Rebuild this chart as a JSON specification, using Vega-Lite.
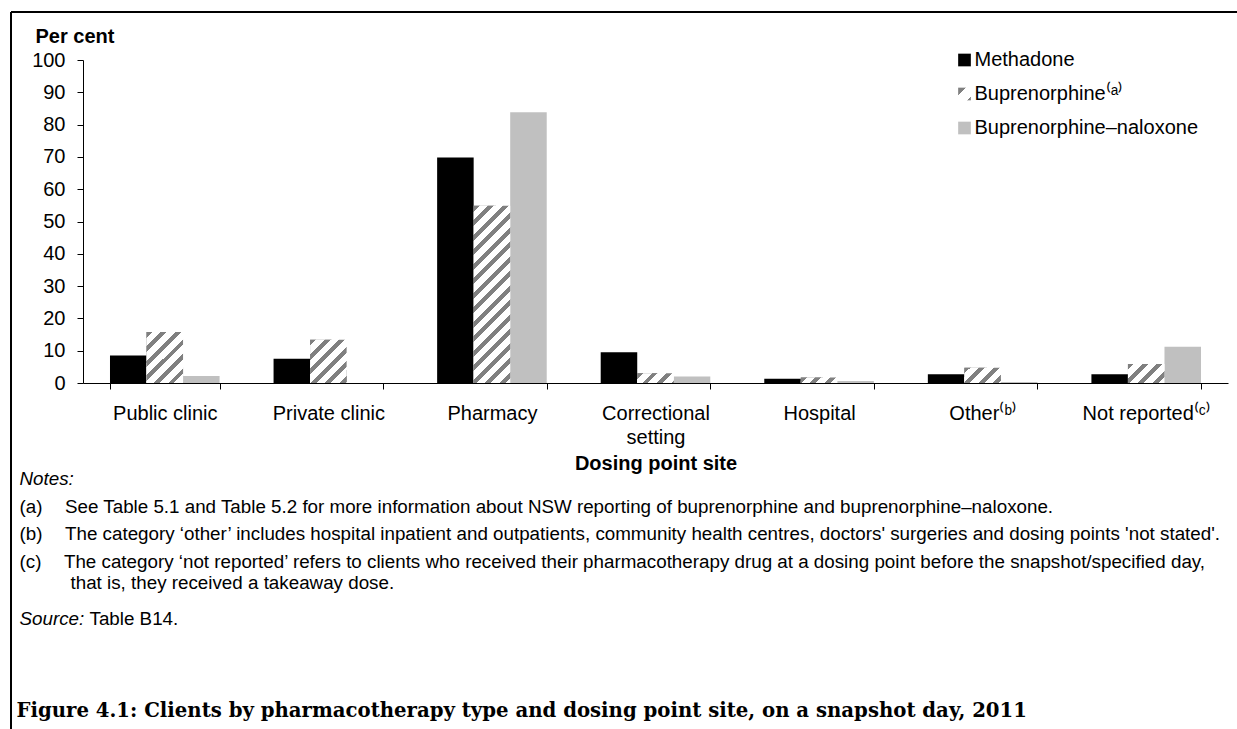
{
  "$schema": "https://vega.github.io/schema/vega-lite/v6.json",
  "width": 1145,
  "height": 323,
  "autosize": {"type": "none"},
  "padding": {"left": 83, "top": 60, "right": 9, "bottom": 346},
  "background": "white",
  "params": [
    {"name": "hatchStops", "value": [
      {"offset":0,"color":"#808080"},{"offset":0.025,"color":"#808080"},{"offset":0.025,"color":"#ffffff"},{"offset":0.0625,"color":"#ffffff"},
      {"offset":0.0625,"color":"#808080"},{"offset":0.0875,"color":"#808080"},{"offset":0.0875,"color":"#ffffff"},{"offset":0.125,"color":"#ffffff"},
      {"offset":0.125,"color":"#808080"},{"offset":0.15,"color":"#808080"},{"offset":0.15,"color":"#ffffff"},{"offset":0.1875,"color":"#ffffff"},
      {"offset":0.1875,"color":"#808080"},{"offset":0.2125,"color":"#808080"},{"offset":0.2125,"color":"#ffffff"},{"offset":0.25,"color":"#ffffff"},
      {"offset":0.25,"color":"#808080"},{"offset":0.275,"color":"#808080"},{"offset":0.275,"color":"#ffffff"},{"offset":0.3125,"color":"#ffffff"},
      {"offset":0.3125,"color":"#808080"},{"offset":0.3375,"color":"#808080"},{"offset":0.3375,"color":"#ffffff"},{"offset":0.375,"color":"#ffffff"},
      {"offset":0.375,"color":"#808080"},{"offset":0.4,"color":"#808080"},{"offset":0.4,"color":"#ffffff"},{"offset":0.4375,"color":"#ffffff"},
      {"offset":0.4375,"color":"#808080"},{"offset":0.4625,"color":"#808080"},{"offset":0.4625,"color":"#ffffff"},{"offset":0.5,"color":"#ffffff"},
      {"offset":0.5,"color":"#808080"},{"offset":0.525,"color":"#808080"},{"offset":0.525,"color":"#ffffff"},{"offset":0.5625,"color":"#ffffff"},
      {"offset":0.5625,"color":"#808080"},{"offset":0.5875,"color":"#808080"},{"offset":0.5875,"color":"#ffffff"},{"offset":0.625,"color":"#ffffff"},
      {"offset":0.625,"color":"#808080"},{"offset":0.65,"color":"#808080"},{"offset":0.65,"color":"#ffffff"},{"offset":0.6875,"color":"#ffffff"},
      {"offset":0.6875,"color":"#808080"},{"offset":0.7125,"color":"#808080"},{"offset":0.7125,"color":"#ffffff"},{"offset":0.75,"color":"#ffffff"},
      {"offset":0.75,"color":"#808080"},{"offset":0.775,"color":"#808080"},{"offset":0.775,"color":"#ffffff"},{"offset":0.8125,"color":"#ffffff"},
      {"offset":0.8125,"color":"#808080"},{"offset":0.8375,"color":"#808080"},{"offset":0.8375,"color":"#ffffff"},{"offset":0.875,"color":"#ffffff"},
      {"offset":0.875,"color":"#808080"},{"offset":0.9,"color":"#808080"},{"offset":0.9,"color":"#ffffff"},{"offset":0.9375,"color":"#ffffff"},
      {"offset":0.9375,"color":"#808080"},{"offset":0.9625,"color":"#808080"},{"offset":0.9625,"color":"#ffffff"},{"offset":1,"color":"#ffffff"}
    ]},
    {"name": "hatchLegend", "value": {"gradient": "linear", "x1": 0, "y1": 0, "x2": 1, "y2": 1, "stops": [
      {"offset":0,"color":"#808080"},{"offset":0.3,"color":"#808080"},{"offset":0.3,"color":"#ffffff"},
      {"offset":0.85,"color":"#ffffff"},{"offset":0.85,"color":"#808080"},{"offset":1,"color":"#808080"}
    ]}}
  ],
  "data": {"values": [
    {"site": "Public clinic", "drug": "Methadone", "Percent": 8.5},
    {"site": "Public clinic", "drug": "Buprenorphine", "Percent": 15.8},
    {"site": "Public clinic", "drug": "Buprenorphine–naloxone", "Percent": 2.2},
    {"site": "Private clinic", "drug": "Methadone", "Percent": 7.5},
    {"site": "Private clinic", "drug": "Buprenorphine", "Percent": 13.4},
    {"site": "Private clinic", "drug": "Buprenorphine–naloxone", "Percent": 0},
    {"site": "Pharmacy", "drug": "Methadone", "Percent": 69.8},
    {"site": "Pharmacy", "drug": "Buprenorphine", "Percent": 54.9},
    {"site": "Pharmacy", "drug": "Buprenorphine–naloxone", "Percent": 83.8},
    {"site": "Correctional setting", "drug": "Methadone", "Percent": 9.5},
    {"site": "Correctional setting", "drug": "Buprenorphine", "Percent": 3.0},
    {"site": "Correctional setting", "drug": "Buprenorphine–naloxone", "Percent": 2.0},
    {"site": "Hospital", "drug": "Methadone", "Percent": 1.3},
    {"site": "Hospital", "drug": "Buprenorphine", "Percent": 1.7},
    {"site": "Hospital", "drug": "Buprenorphine–naloxone", "Percent": 0.6},
    {"site": "Other", "drug": "Methadone", "Percent": 2.7},
    {"site": "Other", "drug": "Buprenorphine", "Percent": 4.7},
    {"site": "Other", "drug": "Buprenorphine–naloxone", "Percent": 0.3},
    {"site": "Not reported", "drug": "Methadone", "Percent": 2.7},
    {"site": "Not reported", "drug": "Buprenorphine", "Percent": 5.9},
    {"site": "Not reported", "drug": "Buprenorphine–naloxone", "Percent": 11.2}
  ]},
  "layer": [
    {
      "encoding": {
        "x": {
          "field": "site", "type": "nominal", "sort": null,
          "scale": {"type": "band", "domain": ["Public clinic", "Private clinic", "Pharmacy", "Correctional setting", "Hospital", "Other", "Not reported"], "paddingInner": 0.33, "paddingOuter": 0.165},
          "axis": {
            "orient": "bottom", "tickBand": "extent", "tickSize": 6, "labelPadding": 14, "labelAngle": 0,
            "labelFontSize": 20, "labelLineHeight": 24, "labelOverlap": false, "labelLimit": 0,
            "labelExpr": "datum.label == 'Correctional setting' ? ['Correctional', 'setting'] : datum.label == 'Other' ? 'Other⁽ᵇ⁾' : datum.label == 'Not reported' ? 'Not reported⁽ᶜ⁾' : datum.label",
            "title": "Dosing point site", "titleFontSize": 20, "titleFontWeight": "bold",
            "titleX": 572.5, "titleY": 86.5, "titleAlign": "center", "titleBaseline": "alphabetic"
          }
        },
        "xOffset": {"field": "drug", "type": "nominal", "sort": null, "scale": {"domain": ["Methadone", "Buprenorphine", "Buprenorphine–naloxone"], "paddingInner": 0, "paddingOuter": 0}},
        "y": {
          "field": "Percent", "type": "quantitative",
          "scale": {"domain": [0, 100], "nice": false, "zero": true},
          "axis": {
            "orient": "left", "values": [0, 10, 20, 30, 40, 50, 60, 70, 80, 90, 100],
            "tickSize": 6, "labelPadding": 12, "labelFontSize": 20,
            "title": "Per cent", "titleAngle": 0, "titleFontSize": 20, "titleFontWeight": "bold",
            "titleX": -48, "titleY": -17.5, "titleAlign": "left", "titleBaseline": "alphabetic"
          }
        }
      },
      "layer": [
        {
          "mark": {"type": "bar"},
          "encoding": {
            "fill": {
              "field": "drug", "type": "nominal", "sort": null,
              "scale": {"domain": ["Methadone", "Buprenorphine", "Buprenorphine–naloxone"], "range": ["#000000", {"expr": "hatchLegend"}, "#c0c0c0"]},
              "legend": {
                "orient": "none", "legendX": 871.5, "legendY": -10, "title": null,
                "symbolType": "square", "symbolSize": 161, "symbolStrokeWidth": 0,
                "labelFontSize": 20, "labelOffset": 0, "rowPadding": 14, "padding": 0, "labelLimit": 0,
                "labelExpr": "datum.label == 'Buprenorphine' ? 'Buprenorphine⁽ᵃ⁾' : datum.label"
              }
            }
          }
        },
        {
          "transform": [{"filter": "datum.drug == 'Buprenorphine'"}],
          "mark": {"type": "bar", "fill": {"expr": "{gradient: 'linear', x1: 0, y1: 0, x2: 8468/(1332.25+pow(datum.Percent*3.23,2)), y2: 749.36*datum.Percent/(1332.25+pow(datum.Percent*3.23,2)), stops: hatchStops}"}}
        }
      ]
    },
    {
      "mark": {"type": "point", "opacity": 0},
      "encoding": {
        "x": {
          "field": "Percent", "type": "quantitative",
          "scale": {"domain": [0, 100], "range": [-72.5, 1170], "nice": false},
          "axis": {
            "orient": "top", "offset": 48.5, "domain": true, "domainColor": "#000000", "domainWidth": 2,
            "ticks": false, "labels": false, "grid": false,
            "title": [
              "(a)\u2003\u2009See Table 5.1 and Table 5.2 for more information about NSW reporting of buprenorphine and buprenorphine–naloxone.",
              "(b)\u2003\u2009The category ‘other’ includes hospital inpatient and outpatients, community health centres, doctors' surgeries and dosing points 'not stated'.",
              "(c)\u2003\u2009The category ‘not reported’ refers to clients who received their pharmacotherapy drug at a dosing point before the snapshot/specified day,"
            ],
            "titleFontSize": 18.8, "titleFontWeight": "normal", "titleLineHeight": 27.5, "titleLimit": 3000,
            "titleX": -64, "titleY": 500.5, "titleAlign": "left", "titleBaseline": "alphabetic", "titleAngle": 0
          }
        },
        "y": {
          "field": "Percent", "type": "quantitative",
          "scale": {"domain": [0, 100], "range": [740, -48.5], "nice": false},
          "axis": {
            "orient": "left", "offset": 72.5, "domain": true, "domainColor": "#000000", "domainWidth": 2,
            "ticks": false, "labels": false, "grid": false,
            "title": "Figure 4.1: Clients by pharmacotherapy type and dosing point site, on a snapshot day, 2011",
            "titleFont": "DejaVu Serif", "titleFontSize": 19.7, "titleFontWeight": "bold", "titleLimit": 3000,
            "titleAngle": 0, "titleX": 5.5, "titleY": 656, "titleAlign": "left", "titleBaseline": "alphabetic"
          }
        }
      }
    },
    {
      "mark": {"type": "point", "opacity": 0},
      "encoding": {
        "x": {
          "field": "Percent", "type": "quantitative",
          "scale": {"domain": [0, 100], "nice": false},
          "axis": {
            "orient": "bottom", "domain": false, "ticks": false, "labels": false, "grid": false,
            "title": "Notes:", "titleFontSize": 18.8, "titleFontWeight": "normal", "titleFontStyle": "italic",
            "titleX": -64, "titleY": 101, "titleAlign": "left", "titleBaseline": "alphabetic", "titleAngle": 0
          }
        },
        "y": {
          "field": "Percent", "type": "quantitative",
          "scale": {"domain": [0, 100], "nice": false},
          "axis": {
            "orient": "left", "domain": false, "ticks": false, "labels": false, "grid": false,
            "title": "Source:", "titleFontSize": 18.8, "titleFontWeight": "normal", "titleFontStyle": "italic",
            "titleX": -64, "titleY": 564, "titleAlign": "left", "titleBaseline": "alphabetic", "titleAngle": 0
          }
        }
      }
    },
    {
      "mark": {"type": "point", "opacity": 0},
      "encoding": {
        "x": {
          "field": "Percent", "type": "quantitative",
          "scale": {"domain": [0, 100], "nice": false},
          "axis": {
            "orient": "top", "domain": false, "ticks": false, "labels": false, "grid": false,
            "title": "that is, they received a takeaway dose.", "titleFontSize": 18.8, "titleFontWeight": "normal", "titleLimit": 3000,
            "titleX": -13, "titleY": 528, "titleAlign": "left", "titleBaseline": "alphabetic", "titleAngle": 0
          }
        },
        "y": {
          "field": "Percent", "type": "quantitative",
          "scale": {"domain": [0, 100], "nice": false},
          "axis": {
            "orient": "left", "domain": false, "ticks": false, "labels": false, "grid": false,
            "title": "Table B14.", "titleFontSize": 18.8, "titleFontWeight": "normal",
            "titleX": 6, "titleY": 564, "titleAlign": "left", "titleBaseline": "alphabetic", "titleAngle": 0
          }
        }
      }
    }
  ],
  "resolve": {
    "scale": {"x": "independent", "y": "independent"},
    "axis": {"x": "independent", "y": "independent"}
  },
  "config": {
    "font": "Liberation Sans",
    "view": {"stroke": null},
    "axis": {
      "grid": false, "labelColor": "#000000", "titleColor": "#000000",
      "domainColor": "#000000", "tickColor": "#000000",
      "labelFont": "Liberation Sans", "titleFont": "Liberation Sans"
    },
    "legend": {"labelColor": "#000000", "labelFont": "Liberation Sans"}
  }
}
